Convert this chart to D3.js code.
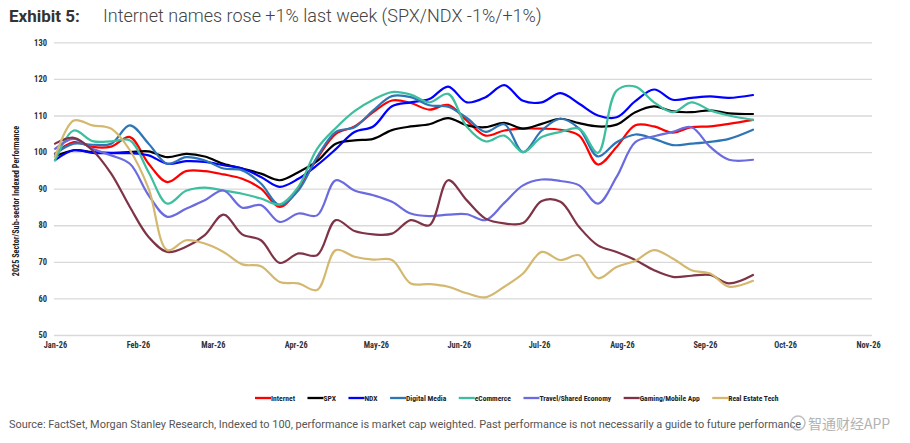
<!DOCTYPE html>
<html>
<head>
<meta charset="utf-8">
<script src="https://cdn.jsdelivr.net/npm/d3@7"></script>
<style>
  html, body { margin: 0; padding: 0; background: #fff; }
  svg { display: block; }
  .narrow { font-family: "Liberation Sans Narrow", "Arial Narrow", "Roboto Condensed", "Liberation Sans", sans-serif; font-weight: 700; }
</style>
</head>
<body>
<svg id="chart" width="910" height="443"></svg>
<script>
// ---- data ----
const dates = ["2026-01-01","2026-01-08","2026-01-15","2026-01-22","2026-01-29","2026-02-05","2026-02-12","2026-02-19","2026-02-26",
  "2026-03-05","2026-03-12","2026-03-19","2026-03-26","2026-04-02","2026-04-09","2026-04-16","2026-04-23","2026-04-30",
  "2026-05-07","2026-05-14","2026-05-21","2026-05-28","2026-06-04","2026-06-11","2026-06-18","2026-06-25","2026-07-02",
  "2026-07-09","2026-07-16","2026-07-23","2026-07-30","2026-08-06","2026-08-13","2026-08-20","2026-08-27","2026-09-03",
  "2026-09-10","2026-09-19"];

const internet     = [99.5,102.7,101.4,101.5,104.1,96.8,91.8,94.8,94.8,93.9,92.7,90.0,85.0,90.0,98.2,105.0,107.0,110.9,114.1,113.4,111.6,112.9,108.6,104.5,105.9,106.4,106.4,106.1,104.5,96.6,101.4,107.3,107.0,105.3,106.8,107.0,107.7,108.8];
const spx          = [98.8,100.5,100.0,99.8,100.0,100.2,98.6,99.5,98.8,96.8,95.5,94.1,92.3,94.5,97.5,102.3,103.2,103.6,106.0,107.0,107.6,109.3,107.3,106.8,108.0,106.4,107.7,109.1,107.9,107.0,107.5,110.9,112.5,111.1,110.9,111.4,110.6,110.4];
const ndx          = [97.8,100.5,99.8,99.7,99.7,99.1,96.8,97.5,97.3,96.4,95.5,93.2,90.5,92.7,96.4,100.8,105.5,107.0,112.5,113.6,114.5,117.9,113.6,115.0,118.3,114.0,113.6,116.1,113.2,110.0,109.5,113.9,117.1,114.3,114.8,115.2,114.8,115.6];
const digitalMedia = [99.5,102.3,102.0,102.3,107.3,102.3,96.8,98.6,97.7,95.5,95.0,91.4,85.5,89.5,98.6,105.5,106.8,111.4,115.3,115.0,112.8,112.4,109.3,105.5,107.6,100.0,105.9,109.1,106.4,98.8,102.7,104.8,103.6,101.9,102.3,102.8,103.6,106.1];
const eCommerce    = [97.7,105.9,103.0,102.9,103.2,94.5,85.9,89.4,90.3,89.5,88.6,87.3,85.7,90.5,100.9,106.6,111.2,114.3,116.4,115.7,113.6,115.9,106.9,102.9,104.5,100.0,104.1,105.5,106.4,99.8,116.8,117.9,113.6,110.9,113.6,111.4,110.0,108.8];
const travel       = [100.9,103.6,100.9,99.1,96.8,88.2,82.3,84.5,86.8,89.5,84.8,85.5,80.9,83.2,82.7,92.3,89.5,88.2,86.4,83.2,82.5,82.9,83.0,81.4,86.1,90.9,92.5,92.1,90.9,85.9,93.2,102.7,104.3,105.5,106.8,101.4,97.9,97.9];
const gaming       = [102.3,103.9,100.5,94.1,85.0,76.8,72.7,74.1,77.3,82.9,77.5,75.9,69.7,72.3,71.8,81.4,78.4,77.5,77.7,81.4,80.0,92.3,86.8,81.8,80.5,80.6,86.6,86.4,79.5,74.5,72.7,70.5,67.7,65.9,66.2,66.4,64.1,66.4];
const realEstate   = [98.6,108.6,107.3,106.4,100.5,90.0,73.2,75.9,75.0,72.7,69.3,68.8,64.5,64.1,62.3,73.2,71.4,70.6,70.5,64.1,63.9,63.2,61.4,60.3,63.2,66.8,72.7,70.5,71.8,65.5,68.6,70.3,73.2,70.9,67.7,66.8,63.2,64.8];

const seriesNames  = ["Internet","SPX","NDX","Digital Media","eCommerce","Travel/Shared Economy","Gaming/Mobile App","Real Estate Tech"];
const seriesColors = ["#FF0000","#000000","#0000FF","#2E75B6","#3DBE9E","#6B6BE0","#7F3347","#D4B870"];
const seriesValues = [internet, spx, ndx, digitalMedia, eCommerce, travel, gaming, realEstate];

const yTicks = [50,60,70,80,90,100,110,120,130];
const monthTicks = ["2026-01-01","2026-02-01","2026-03-01","2026-04-01","2026-05-01","2026-06-01","2026-07-01","2026-08-01","2026-09-01","2026-10-01","2026-11-01"];

const titleBold = "Exhibit 5:";
const titleText = "Internet names rose +1% last week (SPX/NDX -1%/+1%)";
const yAxisTitle = "2025 Sector/Sub-sector Indexed Performance";
const sourceText = "Source: FactSet, Morgan Stanley Research, Indexed to 100, performance is market cap weighted. Past performance is not necessarily a guide to future performance";
const watermark = "智通财经APP";

// ---- drawing ----
const svg = d3.select("#chart");
const parse = d3.timeParse("%Y-%m-%d");
const plotL = 55, plotR = 868, plotT = 42.3, plotB = 335;
const gridR = 872;

const x = d3.scaleTime().domain([parse("2026-01-01"), parse("2026-11-01")]).range([plotL, plotR]);
const y = d3.scaleLinear().domain([50, 130]).range([plotB, plotT]);

// Title
const title = svg.append("text").attr("x", 9).attr("y", 22).attr("fill", "#333");
title.append("tspan").text(titleBold).attr("font-family", "Roboto, sans-serif").attr("font-weight", 700).attr("font-size", 17);
title.append("tspan").text(titleText).attr("x", 103).attr("font-family", "Roboto, sans-serif").attr("font-weight", 300).attr("font-size", 18).attr("fill", "#444");

// Y axis with gridlines
const yAxis = svg.append("g").attr("transform", `translate(${plotL - 1},0)`)
  .call(d3.axisLeft(y).tickValues(yTicks).tickSize(-(gridR - plotL + 1)).tickPadding(7));
yAxis.select(".domain").remove();
yAxis.selectAll(".tick line").attr("stroke", "#d9d9d9").attr("stroke-width", 1.3);
yAxis.selectAll(".tick text").attr("class", "narrow").attr("font-size", 8.5).attr("fill", "#333");

// X axis
const xAxis = svg.append("g").attr("transform", `translate(0,${plotB})`)
  .call(d3.axisBottom(x).tickValues(monthTicks.map(parse)).tickFormat(d3.timeFormat("%b-%y")).tickSize(0).tickPadding(7));
xAxis.select(".domain").remove();
xAxis.selectAll(".tick text").attr("class", "narrow").attr("font-size", 8.3).attr("fill", "#333");

// Y axis title
svg.append("text").attr("class", "narrow")
  .attr("transform", `translate(19,201) rotate(-90)`)
  .attr("text-anchor", "middle").attr("font-size", 8.2).attr("fill", "#222")
  .text(yAxisTitle);

// Lines
const line = d3.line()
  .x(d => x(d.date)).y(d => y(d.value))
  .curve(d3.curveCatmullRom.alpha(0.5));

const parsedDates = dates.map(parse);
seriesValues.forEach((vals, i) => {
  const pts = vals.map((v, j) => ({ date: parsedDates[j], value: v }));
  svg.append("path").datum(pts)
    .attr("fill", "none").attr("stroke", seriesColors[i])
    .attr("stroke-width", 2.2).attr("stroke-linejoin", "round").attr("stroke-linecap", "round")
    .attr("d", line);
});

// Legend
const legend = svg.append("g").attr("transform", "translate(255,398)");
let lx = 0;
seriesNames.forEach((name, i) => {
  const g = legend.append("g").attr("transform", `translate(${lx},0)`);
  g.append("line").attr("x1", 0).attr("x2", 16).attr("y1", 0).attr("y2", 0)
    .attr("stroke", seriesColors[i]).attr("stroke-width", 2.3);
  const t = g.append("text").attr("class", "narrow").attr("x", 16).attr("y", 2.8)
    .attr("font-size", 7.6).attr("fill", "#222").text(name);
  lx += 16 + t.node().getComputedTextLength() + 12.5;
});

// Source
svg.append("text").attr("x", 9).attr("y", 428)
  .attr("font-family", "Roboto, sans-serif").attr("font-weight", 400).attr("font-size", 10.95)
  .attr("fill", "#555").text(sourceText);

// Watermark
const wm = svg.append("g").attr("opacity", 0.75);
wm.append("circle").attr("cx", 798).attr("cy", 423).attr("r", 7).attr("fill", "none").attr("stroke", "#aaa").attr("stroke-width", 1.5);
wm.append("text").attr("x", 808).attr("y", 429)
  .attr("font-family", "'Noto Sans CJK SC', sans-serif").attr("font-size", 14).attr("fill", "#999")
  .text(watermark);
</script>
</body>
</html>
